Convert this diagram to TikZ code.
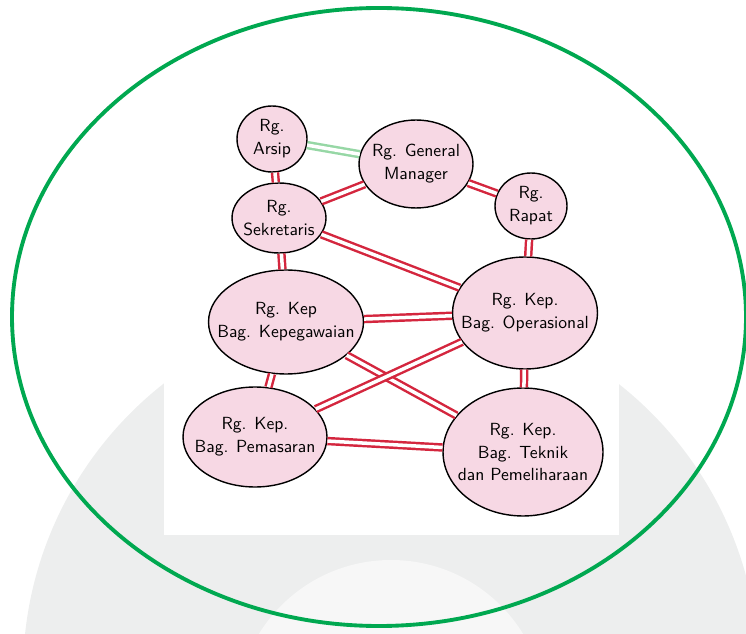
\documentclass[tikz,border=0pt]{standalone}
\usepackage{xcolor}
\usepackage{tikz}
\usetikzlibrary{shapes.geometric,positioning,calc}

\definecolor{roompink}{RGB}{247,216,228}
\definecolor{linkred}{RGB}{212,38,62}
\definecolor{linkgreen}{RGB}{150,215,165}
\definecolor{ringgreen}{RGB}{0,168,80}
\definecolor{markgray}{RGB}{237,238,238}

\begin{document}
\begin{tikzpicture}[
    x=0.02cm, y=-0.02cm,
    room/.style={ellipse, draw=black, line width=0.8pt, fill=roompink,
        inner xsep=-10pt, inner ysep=-4pt,
        align=center, font=\sffamily\fontsize{10}{13}\selectfont},
    link/.style={draw=linkred, double=white, line width=1.4pt, double distance=2pt},
    greenlink/.style={link, draw=linkgreen}
]
    \useasboundingbox (0,0) rectangle (746,634);

    % Watermark and photo
    \begin{scope}
        \clip (0,0) rectangle (746,634);
        \fill[markgray] (391,673) circle[radius=368];
        \fill[white!55!markgray] (391,715) circle[radius=155];
    \end{scope}
    \fill[white] (164,87) rectangle (619,535);

    % Rooms
    \node[room, minimum width=1.4cm, minimum height=1.32cm] (arsip) at (272,139) {Rg.\\Arsip};
    \node[room, minimum width=2.28cm, minimum height=1.76cm] (gm) at (416,164) {Rg. General\\Manager};
    \node[room, minimum width=1.88cm, minimum height=1.4cm] (sekre) at (279,218) {Rg.\\Sekretaris};
    \node[room, minimum width=1.44cm, minimum height=1.32cm] (rapat) at (531,206) {Rg.\\Rapat};
    \node[room, minimum width=3.1cm, minimum height=2.08cm] (kepeg) at (286,322) {Rg. Kep\\Bag. Kepegawaian};
    \node[room, minimum width=2.9cm, minimum height=2.24cm] (opera) at (525,313) {Rg. Kep.\\Bag. Operasional};
    \node[room, minimum width=2.88cm, minimum height=2.0cm] (pemas) at (255,437) {Rg. Kep.\\Bag. Pemasaran};
    \node[room, minimum width=3.2cm, minimum height=2.56cm] (tekn) at (523,452) {Rg. Kep.\\Bag. Teknik\\dan Pemeliharaan};

    % Connections
    \draw[greenlink] (arsip) -- (gm);
    \foreach \a/\b in {arsip/sekre, sekre/gm, gm/rapat, rapat/opera, sekre/opera,
        sekre/kepeg, kepeg/opera, kepeg/tekn, pemas/opera, kepeg/pemas,
        opera/tekn, pemas/tekn} {
        \draw[link] (\a) -- (\b);
    }

    % Ring
    \draw[ringgreen, line width=2.2pt] (379,317) ellipse[x radius=367, y radius=309];
\end{tikzpicture}
\end{document}
